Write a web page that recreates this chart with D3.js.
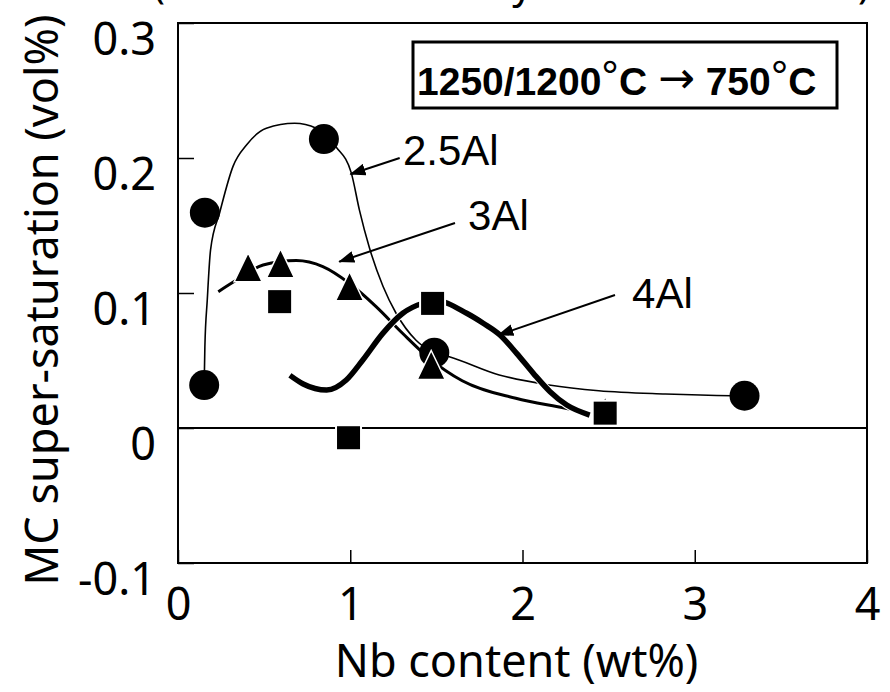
<!DOCTYPE html>
<html><head><meta charset="utf-8">
<script src="https://cdn.jsdelivr.net/npm/d3@7"></script>
<style>
html,body{margin:0;padding:0;background:#fff;}
svg{display:block;}
</style>
</head><body>
<svg id="chart" width="890" height="692"></svg>
<script>
// ---- data ----
const xTicks = [0, 1, 2, 3, 4];
const xTickLabels = ["0", "1", "2", "3", "4"];
const yTicks = [-0.1, 0, 0.1, 0.2, 0.3];
const yTickLabels = ["-0.1", "0", "0.1", "0.2", "0.3"];

// measured points
const al25Points = [[0.156,0.1595],[0.152,0.0318],[0.847,0.214],[1.488,0.0558],[3.289,0.0239]];
const al3Points  = [[0.407,0.1191],[0.595,0.122],[0.996,0.105],[1.47,0.0467],[2.48,0.0125]];
const al4Points  = [[0.59,0.0936],[0.99,-0.0072],[1.478,0.0923],[2.48,0.011]];

// fitted curves (traced)
const al25Curve = [[0.152,0.032],[0.156,0.06],[0.17,0.095],[0.189,0.132],[0.243,0.16],[0.32,0.194],
  [0.4,0.21],[0.513,0.222],[0.677,0.2257],[0.803,0.222],[0.919,0.208],[1.006,0.189],[1.054,0.161],
  [1.11,0.134],[1.19,0.105],[1.266,0.085],[1.382,0.065],[1.488,0.0558],[1.575,0.0528],[1.865,0.0393],
  [2.154,0.0319],[2.443,0.0276],[2.83,0.0252],[3.216,0.0239],[3.29,0.0238]];
const al3Curve = [[0.234,0.101],[0.34,0.1096],[0.494,0.1207],[0.687,0.124],[0.841,0.1195],[0.996,0.107],
  [1.15,0.0899],[1.305,0.07],[1.459,0.0516],[1.65,0.035],[1.961,0.022],[2.25,0.0146],[2.386,0.0109]];
const al4Curve = [[0.65,0.039],[0.727,0.0326],[0.863,0.0281],[0.977,0.0356],[1.073,0.0504],[1.189,0.0701],
  [1.305,0.085],[1.42,0.0924],[1.49,0.0945],[1.676,0.085],[1.772,0.0776],[1.869,0.0689],[1.966,0.0553],
  [2.063,0.0405],[2.16,0.0269],[2.257,0.017],[2.39,0.0096]];

// annotation labels: [text, x, y] and arrows [x1,y1,x2,y2] in data units
const seriesLabels = [["2.5Al",1.306,0.1948],["3Al",1.684,0.1467],["4Al",2.636,0.0889]];
const labelArrows = [[1.287,0.2,1.001,0.188],[1.608,0.1519,0.936,0.1232],[2.537,0.0985,1.86,0.0689]];

// ---- chart ----
const svg = d3.select("#chart");
const L = 178, R = 867, T = 23, B = 563;
const x = d3.scaleLinear().domain([0, 4]).range([L, R]);
const y = d3.scaleLinear().domain([-0.1, 0.3]).range([B, T]);

// partially cut-off title at top
svg.append("text").attr("x", 153).attr("y", -2)
  .attr("font-family", "Noto Sans").attr("font-size", 42)
  .attr("textLength", 717).attr("lengthAdjust", "spacingAndGlyphs")
  .text("(Based on thermodynamic calculation)");

// axes
const xAxis = svg.append("g").attr("transform", `translate(0,${B})`)
  .call(d3.axisBottom(x).tickValues(xTicks).tickSizeInner(-13).tickSizeOuter(0).tickPadding(25)
    .tickFormat((d, i) => xTickLabels[i]));
xAxis.select(".domain").remove();
xAxis.selectAll("line").attr("stroke", "#000").attr("stroke-width", 1.5);
xAxis.selectAll("text").attr("font-family", "Noto Sans").attr("font-size", 45).attr("fill", "#000");

const yAxis = svg.append("g").attr("transform", `translate(${L},0)`)
  .call(d3.axisLeft(y).tickValues(yTicks).tickSizeInner(-16).tickSizeOuter(0).tickPadding(22)
    .tickFormat((d, i) => yTickLabels[i]));
yAxis.select(".domain").remove();
yAxis.selectAll("line").attr("stroke", "#000").attr("stroke-width", 1.5);
yAxis.selectAll("text").attr("font-family", "Noto Sans").attr("font-size", 45).attr("fill", "#000")
  .attr("dy", "0.7em");

// frame
svg.append("rect").attr("x", L).attr("y", T).attr("width", R - L).attr("height", B - T)
  .attr("fill", "none").attr("stroke", "#000").attr("stroke-width", 2);
// zero line
svg.append("line").attr("x1", L).attr("x2", R).attr("y1", y(0)).attr("y2", y(0))
  .attr("stroke", "#000").attr("stroke-width", 2);

// axis titles
svg.append("text").attr("x", (L + R) / 2 - 6).attr("y", 677)
  .attr("text-anchor", "middle").attr("font-family", "Noto Sans").attr("font-size", 45)
  .text("Nb content (wt%)");
svg.append("text").attr("transform", `translate(58,${(588 + 12) / 2}) rotate(-90)`)
  .attr("text-anchor", "middle").attr("font-family", "Noto Sans").attr("font-size", 45)
  .text("MC super-saturation (vol%)");

// curves
const line = d3.line().x(d => x(d[0])).y(d => y(d[1])).curve(d3.curveMonotoneX);
const curves = [[al25Curve, 1.6], [al3Curve, 3], [al4Curve, 5.5]];
curves.forEach(([c, w]) => {
  svg.append("path").attr("d", line(c)).attr("fill", "none")
    .attr("stroke", "#fff").attr("stroke-width", w + 2);
  svg.append("path").attr("d", line(c)).attr("fill", "none")
    .attr("stroke", "#000").attr("stroke-width", w);
});

// markers
svg.selectAll("circle.m").data(al25Points).join("circle").attr("class", "m")
  .attr("cx", d => x(d[0])).attr("cy", d => y(d[1])).attr("r", 15).attr("fill", "#000");
const tw = 28, th = 29;
svg.selectAll("path.tri").data(al3Points).join("path").attr("class", "tri")
  .attr("d", d => { const cx = x(d[0]), cy = y(d[1]);
    return `M${cx},${cy - th/2}L${cx + tw/2},${cy + th/2}L${cx - tw/2},${cy + th/2}Z`; })
  .attr("fill", "#000").attr("stroke", "#fff").attr("stroke-width", 1.5);
const sq = 25;
svg.selectAll("rect.sq").data(al4Points).join("rect").attr("class", "sq")
  .attr("x", d => x(d[0]) - sq/2).attr("y", d => y(d[1]) - sq/2).attr("width", sq).attr("height", sq)
  .attr("fill", "#000").attr("stroke", "#fff").attr("stroke-width", 2);

// arrows
const defs = svg.append("defs");
defs.append("marker").attr("id", "ah").attr("viewBox", "0 0 16 12").attr("refX", 15).attr("refY", 6)
  .attr("markerWidth", 16).attr("markerHeight", 12).attr("markerUnits", "userSpaceOnUse")
  .attr("orient", "auto").append("path").attr("d", "M0,0L16,6L0,12Z").attr("fill", "#000");
svg.selectAll("line.arr").data(labelArrows).join("line").attr("class", "arr")
  .attr("x1", d => x(d[0])).attr("y1", d => y(d[1])).attr("x2", d => x(d[2])).attr("y2", d => y(d[3]))
  .attr("stroke", "#000").attr("stroke-width", 2).attr("marker-end", "url(#ah)");

svg.selectAll("text.sl").data(seriesLabels).join("text").attr("class", "sl")
  .attr("x", d => x(d[1])).attr("y", d => y(d[2]))
  .attr("font-family", "Liberation Sans, Arial, sans-serif").attr("font-size", 42)
  .text(d => d[0]);

// condition box
svg.append("rect").attr("x", 413).attr("y", 42).attr("width", 424).attr("height", 66)
  .attr("fill", "#fff").attr("stroke", "#000").attr("stroke-width", 3);
const bt = svg.append("text").attr("x", 417).attr("y", 95)
  .attr("font-family", "Liberation Sans, Arial, sans-serif").attr("font-size", 39).attr("font-weight", "bold");
bt.append("tspan").text("1250/1200");
bt.append("tspan").attr("font-weight", "normal").attr("font-size", 44).attr("dy", -3).text("°");
bt.append("tspan").attr("dy", 3).text("C ");
bt.append("tspan").attr("font-family", "DejaVu Sans").attr("font-weight", "normal").attr("font-size", 44).attr("dy", -2).text("→");
bt.append("tspan").attr("dy", 2).text(" 750");
bt.append("tspan").attr("font-weight", "normal").attr("font-size", 44).attr("dy", -3).text("°");
bt.append("tspan").attr("dy", 3).text("C");
</script>
</body></html>
